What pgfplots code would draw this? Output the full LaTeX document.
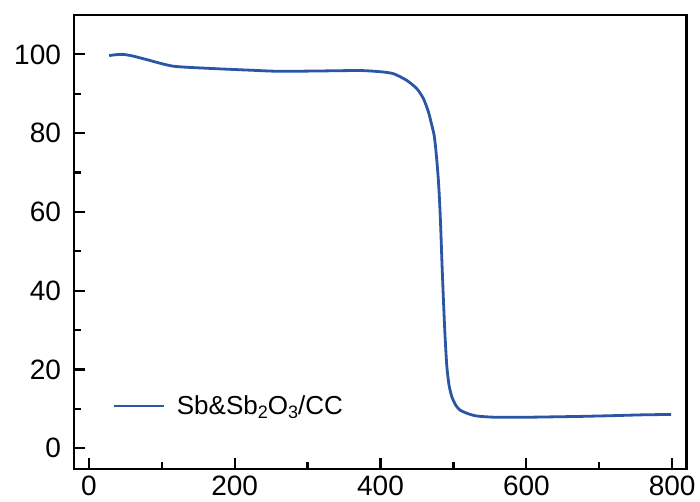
\documentclass[border=0pt]{standalone}
\usepackage{fontspec}
\setmainfont{Liberation Sans}
\usepackage{pgfplots}
\pgfplotsset{compat=1.18}
\definecolor{tgablue}{RGB}{43,85,165}

\begin{document}
\begin{tikzpicture}
\useasboundingbox (-37pt,-16.5pt) rectangle (313pt,234.5pt);
\begin{axis}[
 at={(0,0)},anchor=south west,
 scale only axis,width=306.4pt,height=227pt,
 xmin=-20.3,xmax=820,ymin=-5.25,ymax=110,
 xtick={0,200,...,800},ytick={0,20,...,100},
 minor xtick={100,300,500,700},minor ytick={10,30,50,70,90},
 tick align=inside,tick pos=left,
 major tick length=5.5pt,minor tick length=3.5pt,
 axis line style={line width=1.3pt},
 every tick/.style={line width=1.1pt,black},
 tick label style={font=\fontsize{14}{16}\selectfont},
 yticklabel style={xshift=-3pt},
 /pgf/number format/assume math mode=true,
 legend style={at={(axis cs:33,10.7)},anchor=west,draw=none,fill=none,
   inner sep=0pt,font=\fontsize{13}{15}\selectfont,legend cell align=left},
 legend image code/.code={\draw[#1,line width=1.2pt] (0pt,0pt) -- (25pt,0pt);
   \path (28.5pt,0pt);},
]
\addplot[tgablue,line width=1.4pt,smooth,tension=0.4] coordinates {
(28,99.7) (36,99.9) (47,100.0) (60,99.6) (79,98.7) (116,97.0) (171,96.4) (220,96.0)
(262,95.7) (320,95.8) (372,95.9) (399.5,95.6) (417.7,95.1) (436,93.4) (449.8,91.3)
(458.8,88.8) (465.7,85.4) (470.4,82.0) (473.5,79.5) (475.5,76.5) (477.5,72.5)
(479.4,68) (481.2,62) (482.7,55.4) (484.3,47) (486.3,37.6) (488.5,28.5) (491,20.7)
(494,16.0) (497.8,13.1) (503,11.0) (509,9.7) (520,8.8) (532,8.2) (555,7.9) (580,7.9)
(605,7.9) (640,8.0) (674,8.1) (720,8.3) (760,8.5) (798.6,8.6)};
\addlegendentry{Sb\&Sb\raisebox{-0.35ex}{\fontsize{9}{10}\selectfont 2}O\raisebox{-0.35ex}{\fontsize{9}{10}\selectfont 3}/CC}
\end{axis}
\end{tikzpicture}
\end{document}
